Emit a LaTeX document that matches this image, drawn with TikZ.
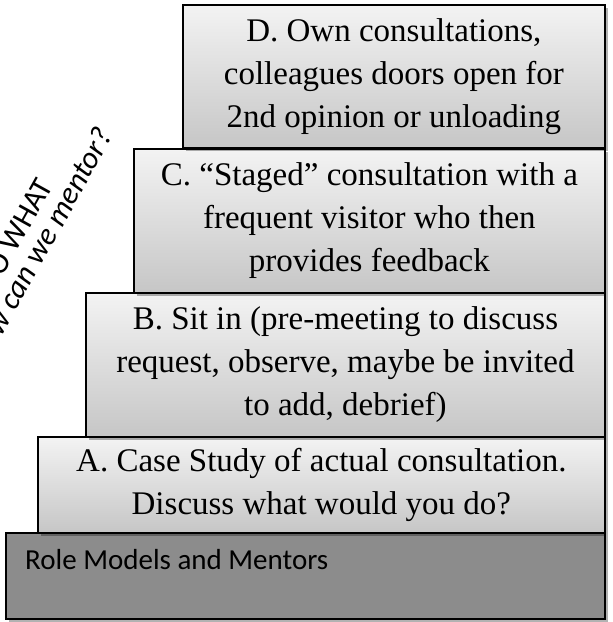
\documentclass[tikz,border=0pt]{standalone}
\usepackage{fontspec}
\setmainfont{Liberation Serif}
\newfontfamily\calfont{Carlito}
\usetikzlibrary{shadows}
\definecolor{boxtop}{RGB}{243,243,243}
\definecolor{boxbot}{RGB}{198,198,198}
\definecolor{basegray}{RGB}{140,140,140}
\tikzset{
  stepbox/.style={draw=black, line width=1.8pt, anchor=north west, inner sep=0pt,
    align=center, font=\fontsize{33}{43}\selectfont,
    top color=boxtop, bottom color=boxbot,
    drop shadow={shadow xshift=3pt, shadow yshift=-3pt, opacity=0.3, fill=black}},
  basebox/.style={stepbox, fill=basegray, top color=basegray, bottom color=basegray},
}
\begin{document}
\begin{tikzpicture}[x=1pt, y=-1pt]
  \clip (0,0) rectangle (613,622);
  \fill[white] (0,0) rectangle (613,622);
  % steps, from the bottom up
  \node[basebox, minimum width=599pt, minimum height=86pt] (base) at (5,532) {};
  \node[anchor=north west, inner sep=0pt, font=\calfont\fontsize{29}{34}\selectfont]
    (basetext) at (25,549) {Role Models and Mentors};
  \node[stepbox, minimum width=567pt, minimum height=96pt] (stepA) at (37,436)
    {A. Case Study of actual consultation.\\ Discuss what would you do?};
  \node[stepbox, minimum width=519pt, minimum height=144pt] (stepB) at (85,292)
    {B. Sit in (pre-meeting to discuss\\ request, observe, maybe be invited\\ to add, debrief)};
  \node[stepbox, minimum width=471pt, minimum height=144pt] (stepC) at (133,148)
    {C. “Staged” consultation with a\\ frequent visitor who then\\ provides feedback};
  \node[stepbox, minimum width=422pt, minimum height=143pt] (stepD) at (182,4)
    {D. Own consultations,\\ colleagues doors open for\\ 2nd opinion or unloading};
  % question on the side
  \node[rotate=61, align=center, inner sep=0pt, font=\calfont\fontsize{31}{28}\selectfont]
    (sowhat) at (28,240) {SO WHAT\\ \itshape How can we mentor?};
\end{tikzpicture}
\end{document}
